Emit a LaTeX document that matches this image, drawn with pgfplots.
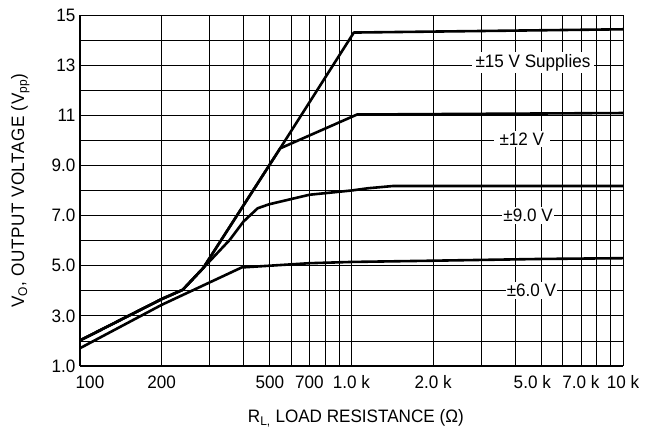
\documentclass[border=0pt]{standalone}
\usepackage{fontspec}
\setmainfont[FakeStretch=0.95]{Liberation Sans}
\usepackage{pgfplots}
\pgfplotsset{compat=1.18}

% output swing vs load, one table per supply
\pgfplotstableread{
R     V
100   2.02
200   3.67
239   4.04
284   4.90
546   9.68
1020  14.30
10000 14.43
}\supfifteen
\pgfplotstableread{
R     V
100   2.02
200   3.67
239   4.04
284   4.90
546   9.68
1048  11.03
10000 11.09
}\suptwelve
\pgfplotstableread{
R     V
100   2.02
200   3.67
239   4.04
284   4.90
356   6.03
400   6.76
451   7.29
497   7.45
700   7.83
1000  8.00
1152  8.09
1425  8.18
10000 8.18
}\supnine
\pgfplotstableread{
R     V
100   1.71
200   3.44
394   4.93
700   5.10
1000  5.15
2000  5.20
5000  5.27
10000 5.30
}\supsix

\begin{document}
\begin{tikzpicture}[font=\fontsize{18}{21}\selectfont]
\begin{axis}[
    scale only axis,
    width=543pt, height=351pt,
    xmode=log,
    xmin=100, xmax=10000,
    ymin=1, ymax=15,
    axis lines*=left,
    axis line style={line width=1.6pt},
    xtick={100,200,500,700,1000,2000,5000,7000,10000},
    xticklabels={\hspace*{20pt}100,200,500,700,1.0 k,2.0 k,5.0 k\hspace*{18pt},7.0 k,10 k},
    minor xtick={300,400,600,800,900,3000,4000,6000,8000,9000},
    ytick={1,3,5,7,9,11,13,15},
    yticklabels={1.0,3.0,5.0,7.0,9.0,11,13,15},
    minor ytick={2,4,6,8,10,12,14},
    grid=both,
    major grid style={black, line width=0.8pt},
    minor grid style={black, line width=0.8pt},
    major tick length=0pt, minor tick length=0pt,
    yticklabel style={xshift=-1pt},
    xticklabel style={yshift=-6pt},
    xlabel={R\textsubscript{L,} LOAD RESISTANCE (Ω)},
    ylabel={\addfontfeature{LetterSpace=3}V\textsubscript{O}, OUTPUT VOLTAGE (V\textsubscript{pp})},
    xlabel style={at={(axis description cs:0.508,-0.148)}, anchor=center},
    ylabel style={at={(axis description cs:-0.11,0.5)}, anchor=center},
]
\addplot[black, line width=2.6pt, line join=round] table[x=R, y=V] {\supsix};
\addplot[black, line width=2.6pt, line join=round] table[x=R, y=V] {\supnine};
\addplot[black, line width=2.6pt, line join=round] table[x=R, y=V] {\suptwelve};
\addplot[black, line width=2.6pt, line join=round] table[x=R, y=V] {\supfifteen};

\node[fill=white, inner xsep=4pt, inner ysep=2pt] at (axis cs:4660,13.1) {±15 V Supplies};
\node[fill=white, inner xsep=6pt, inner ysep=2pt] at (axis cs:4240,10.05) {±12 V};
\node[fill=white, inner xsep=1pt, inner ysep=2pt] at (axis cs:4470,7.0) {±9.0 V};
\node[fill=white, inner xsep=1pt, inner ysep=2pt] at (axis cs:4600,4.0) {±6.0 V};
\end{axis}
\pgfresetboundingbox
\path[use as bounding box] ([xshift=-80pt,yshift=-67pt]current axis.south west)
    rectangle ([xshift=22pt,yshift=15pt]current axis.north east);
\end{tikzpicture}
\end{document}
